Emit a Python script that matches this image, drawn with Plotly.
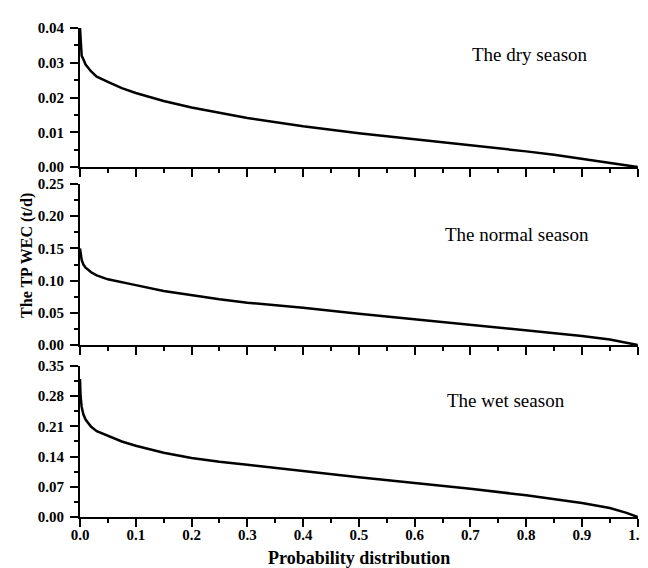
import plotly.graph_objects as go
from plotly.subplots import make_subplots

prob = [0, 0.001, 0.003, 0.006, 0.01, 0.02, 0.03, 0.05, 0.075, 0.1, 0.15, 0.2, 0.25, 0.3, 0.4, 0.5, 0.6, 0.7, 0.8, 0.85, 0.9, 0.95, 0.98, 1.0]
dry = [0.040, 0.036, 0.032, 0.031, 0.0295, 0.0275, 0.026, 0.0245, 0.0227, 0.0213, 0.0190, 0.0171, 0.0155, 0.0141, 0.0117, 0.0097, 0.0080, 0.0063, 0.0045, 0.0035, 0.0024, 0.0013, 0.0005, 0.0]
normal = [0.15, 0.14, 0.132, 0.125, 0.12, 0.113, 0.108, 0.102, 0.097, 0.093, 0.084, 0.077, 0.071, 0.0657, 0.058, 0.0486, 0.0398, 0.032, 0.0227, 0.0185, 0.014, 0.0087, 0.0035, 0.0]
wet = [0.32, 0.28, 0.255, 0.238, 0.226, 0.209, 0.199, 0.188, 0.175, 0.165, 0.149, 0.137, 0.128, 0.121, 0.106, 0.092, 0.0788, 0.0656, 0.0503, 0.042, 0.0324, 0.0209, 0.0095, 0.0]

series = [dry, normal, wet]
labels = ["The dry season", "The normal season", "The wet season"]
y_ranges = [[0, 0.04], [0, 0.25], [0, 0.35]]
y_dticks = [0.01, 0.05, 0.07]
x_ticks = [0.0, 0.1, 0.2, 0.3, 0.4, 0.5, 0.6, 0.7, 0.8, 0.9, 1.0]
x_ticklabels = ["0.0", "0.1", "0.2", "0.3", "0.4", "0.5", "0.6", "0.7", "0.8", "0.9", "1.0"]

FONT = "Liberation Serif, Times New Roman, serif"

fig = make_subplots(rows=3, cols=1, shared_xaxes=False, vertical_spacing=0.03)
domains = [[0.7157, 1.0], [0.3517, 0.681], [0.0, 0.3088]]
# label positions (left edge x, centre y) in data units
label_pos = [(0.70, 0.0325), (0.65, 0.171), (0.655, 0.271)]

for i, (s, lab) in enumerate(zip(series, labels)):
    r = i + 1
    fig.add_trace(go.Scatter(x=prob, y=s, mode="lines", line=dict(color="black", width=2.5),
                             showlegend=False, hoverinfo="skip", cliponaxis=False), row=r, col=1)
    fig.update_xaxes(range=[0, 1.0005], tickvals=x_ticks, ticktext=x_ticklabels, showticklabels=(r == 3),
                     ticks="outside", ticklen=8, tickwidth=2, tickcolor="black", ticklabelstandoff=-5,
                     minor=dict(tickvals=[0.05, 0.15, 0.25, 0.35, 0.45, 0.55, 0.65, 0.75, 0.85, 0.95],
                                ticks="outside", ticklen=4, tickwidth=2, tickcolor="black", showgrid=False),
                     showline=True, linecolor="black", linewidth=2, showgrid=False, zeroline=False,
                     ticklabeloverflow="allow",
                     tickfont=dict(family=FONT, size=15, color="black", weight="bold"), row=r, col=1)
    fig.update_yaxes(range=y_ranges[i], dtick=y_dticks[i], tick0=0, tickformat=".2f",
                     ticks="outside", ticklen=8, tickwidth=2, tickcolor="black", ticklabelstandoff=3,
                     minor=dict(dtick=y_dticks[i] / 2, ticks="outside", ticklen=4, tickwidth=2, tickcolor="black", showgrid=False),
                     showline=True, linecolor="black", linewidth=2, showgrid=False, zeroline=False,
                     domain=domains[i],
                     tickfont=dict(family=FONT, size=15, color="black", weight="bold"), row=r, col=1)
    fig.add_annotation(x=label_pos[i][0], y=label_pos[i][1], xref=f"x{r if r > 1 else ''}", yref=f"y{r if r > 1 else ''}",
                       text=lab, showarrow=False, xanchor="left", yanchor="middle",
                       font=dict(family=FONT, size=19, color="black"))

fig.add_annotation(x=0.5, y=-0.084, xref="paper", yref="paper", text="<b>Probability distribution</b>", showarrow=False,
                   font=dict(family=FONT, size=18, color="black"), xanchor="center", yanchor="middle")
fig.add_annotation(x=-0.094, y=0.535, xref="paper", yref="paper", text="<b>The TP WEC (t/d)</b>", showarrow=False, textangle=-90,
                   font=dict(family=FONT, size=16, color="black"), xanchor="center", yanchor="middle")

fig.update_layout(width=648, height=568, margin=dict(l=72, r=9, t=20, b=59),
                  plot_bgcolor="white", paper_bgcolor="white",
                  font=dict(family=FONT, color="black"))

fig.write_html("out.html")
